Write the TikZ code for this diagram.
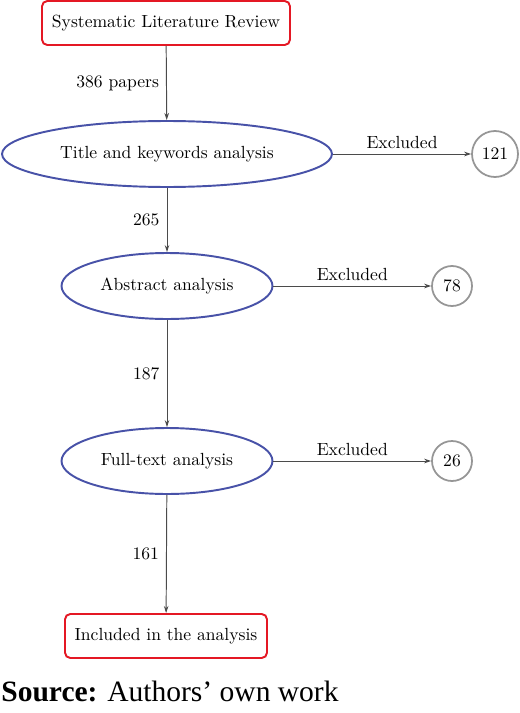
\documentclass[tikz,border=0pt]{standalone}
\usepackage{fontspec}
\newfontfamily\srcfont{Liberation Serif}
\usetikzlibrary{arrows.meta,shapes.geometric}

\definecolor{boxred}{RGB}{228,24,36}
\definecolor{stageblue}{RGB}{72,82,168}
\definecolor{exclgray}{RGB}{150,150,150}
\definecolor{flowgray}{RGB}{75,75,75}

\begin{document}
\begin{tikzpicture}[>={Stealth[length=4pt,width=2.6pt]},x=0.02cm,y=-0.02cm,
    endbox/.style={draw=boxred,line width=1.1pt,rounded corners=3pt,
        minimum height=0.88cm,inner sep=0pt},
    stage/.style={ellipse,draw=stageblue,line width=1.1pt,inner sep=0pt},
    excl/.style={circle,draw=exclgray,line width=1pt,inner sep=0pt},
    flow/.style={->,draw=flowgray,line width=0.55pt}]

    \useasboundingbox (0,0) rectangle (520,713);

    % Start and end
    \node [endbox,minimum width=4.96cm] (slr) at (166,23) {Systematic Literature Review};
    \node [endbox,minimum width=4.04cm] (incl) at (166,636) {Included in the analysis};

    % Screening stages
    \node [stage,minimum width=6.6cm,minimum height=1.32cm] (title) at (167,154) {Title and keywords analysis};
    \node [stage,minimum width=4.22cm,minimum height=1.32cm] (abstract) at (167,286) {Abstract analysis};
    \node [stage,minimum width=4.22cm,minimum height=1.32cm] (fulltext) at (167,461) {Full-text analysis};

    % Excluded counts
    \node [excl,minimum size=0.92cm] (ex1) at (495,154) {121};
    \node [excl,minimum size=0.8cm] (ex2) at (452,286) {78};
    \node [excl,minimum size=0.8cm] (ex3) at (452,461) {26};

    % Main flow
    \draw [flow] (slr) -- node [left,inner sep=4pt] {386 papers} (title);
    \draw [flow] (title) -- node [left,inner sep=4pt] {265} (abstract);
    \draw [flow] (abstract) -- node [left,inner sep=4pt] {187} (fulltext);
    \draw [flow] (fulltext) -- node [left,inner sep=4pt] {161} (incl);

    % Exclusions
    \draw [flow] (title) -- node [above,inner sep=3pt] {Excluded} (ex1);
    \draw [flow] (abstract) -- node [above,inner sep=3pt] {Excluded} (ex2);
    \draw [flow] (fulltext) -- node [above,inner sep=3pt] {Excluded} (ex3);

    % Source line
    \node [anchor=base west,inner sep=0pt,font=\srcfont\fontsize{16.8}{20}\selectfont] (src) at (1,701)
        {\textbf{Source:} Authors’ own work};

\end{tikzpicture}
\end{document}
